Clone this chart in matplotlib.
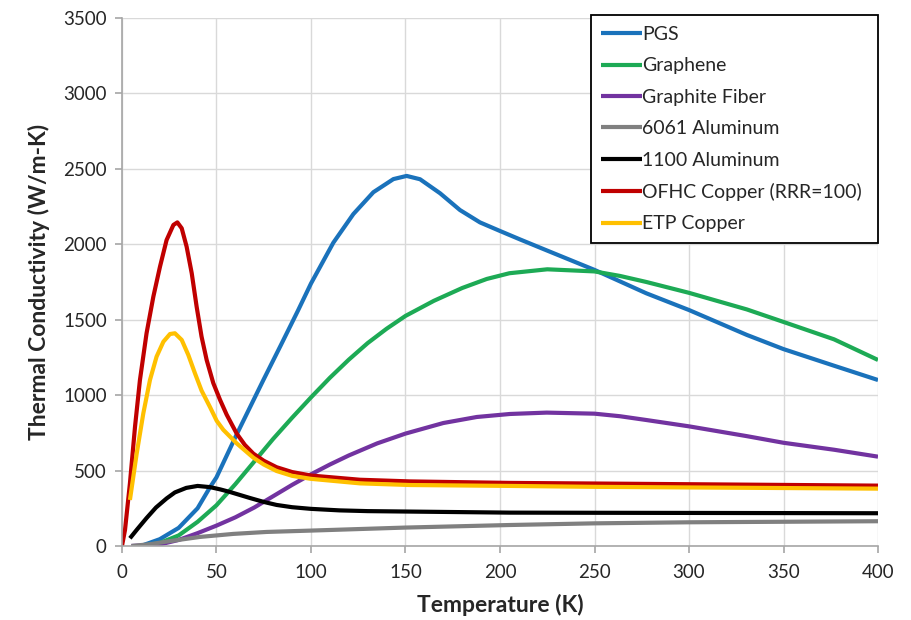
import matplotlib
matplotlib.use("Agg")
import matplotlib.pyplot as plt

plt.rcParams['font.family'] = ['Lato', 'DejaVu Sans']

# Temperature (K) / Thermal conductivity (W/m-K)
pgs_t = [10, 20, 30, 40, 46.6, 50, 60.7, 74.8, 84, 93.1, 100, 111.8, 122.4, 133, 143.6, 150.6, 157.7, 168.3, 178.8, 189.4, 200, 210.6, 224.2, 250, 277.4, 300, 330.6, 350, 376.7, 400]
pgs_k = [0, 45, 120, 250, 390, 455, 740, 1100, 1330, 1560, 1740, 2010, 2200, 2345, 2432, 2453, 2431, 2338, 2227, 2145, 2088, 2032, 1962, 1830, 1675, 1564, 1399, 1305, 1195, 1100]

gra_t = [10, 20, 30, 40, 50, 60, 70, 80, 90, 100, 110, 120, 130, 140, 150, 165, 180, 193, 205, 225, 250, 263.5, 277.4, 300, 330.6, 350, 376.7, 400]
gra_k = [0, 20, 70, 160, 270, 410, 560, 710, 850, 985, 1115, 1235, 1345, 1440, 1525, 1625, 1710, 1770, 1808, 1834, 1820, 1790, 1750, 1678, 1568, 1485, 1370, 1233]

fib_t = [5, 20, 30, 40, 50, 60, 70, 80, 90, 100, 110, 120, 135, 150, 170, 187.7, 205.3, 224.7, 250, 263.5, 277.4, 300, 330.6, 350, 376.7, 400]
fib_k = [0, 10, 40, 85, 135, 190, 255, 330, 405, 475, 540, 600, 680, 745, 815, 855, 875, 884, 877, 860, 835, 793, 728, 684, 638, 592]

al6061_t = [5, 15, 23.6, 41.3, 58.9, 76.5, 100, 150, 205.3, 250, 300, 400]
al6061_k = [0, 12, 29, 60, 80, 93, 102, 122, 139, 150, 157, 164]

al1100_t = [4.2, 8, 13, 18, 23.6, 28, 34, 40, 46.6, 52, 57.1, 62.4, 67.7, 75, 81.8, 90, 100, 115, 130, 152.4, 205.3, 250, 400]
al1100_k = [51, 110, 185, 255, 315, 355, 385, 398, 390, 375, 358, 338, 318, 292, 272, 257, 246, 236, 231, 228, 221, 220, 217]

ofhc_t = [0, 1.6, 4.2, 6.9, 9.5, 13, 16.6, 20.1, 23.6, 27.2, 29.3, 31.6, 34.2, 36.9, 39.5, 42.1, 44.8, 48.3, 51.9, 55.4, 60.7, 65, 69.5, 75, 81.8, 90, 100, 125.9, 152.4, 205.3, 250, 400]
ofhc_k = [0, 106, 415, 791, 1100, 1410, 1653, 1851, 2028, 2128, 2145, 2106, 1984, 1808, 1586, 1388, 1233, 1080, 968, 870, 745, 670, 612, 565, 522, 490, 467, 439, 428, 418, 414, 400]

etp_t = [4.2, 7.8, 11.3, 14.8, 18.3, 21.9, 25.4, 28, 31.6, 35.1, 38.6, 42.1, 46.6, 50.1, 53.6, 60.7, 69.5, 75, 81.8, 90, 100, 125.9, 152.4, 205.3, 250, 400]
etp_k = [305, 614, 880, 1100, 1255, 1354, 1405, 1410, 1366, 1266, 1145, 1030, 920, 830, 770, 680, 585, 540, 497, 465, 445, 415, 404, 398, 392, 380]

series = [
    ("PGS", pgs_t, pgs_k, "#1A72BB"),
    ("Graphene", gra_t, gra_k, "#1DAA55"),
    ("Graphite Fiber", fib_t, fib_k, "#7233A0"),
    ("6061 Aluminum", al6061_t, al6061_k, "#808080"),
    ("1100 Aluminum", al1100_t, al1100_k, "#000000"),
    ("OFHC Copper (RRR=100)", ofhc_t, ofhc_k, "#C00000"),
    ("ETP Copper", etp_t, etp_k, "#FFC000"),
]

fig = plt.figure(figsize=(9.11, 6.2), dpi=100)
ax = fig.add_axes([0.1339, 0.1194, 0.8299, 0.8516])

for name, t, k, c in series:
    ax.plot(t, k, color=c, lw=3.0, label=name, solid_capstyle='butt', solid_joinstyle='round')

ax.set_xlim(0, 400)
ax.set_ylim(0, 3500)
ax.set_xticks(range(0, 401, 50))
ax.set_yticks(range(0, 3501, 500))
ax.grid(True, color="#d9d9d9", lw=1.0)
ax.set_axisbelow(True)
for s in ['top', 'right']:
    ax.spines[s].set_visible(False)
for s in ['left', 'bottom']:
    ax.spines[s].set_color("#a6a6a6")
    ax.spines[s].set_linewidth(1.2)
ax.tick_params(axis='both', colors="#a6a6a6", labelcolor="#262626", labelsize=13.5, length=5, width=1.2)
ax.tick_params(axis='x', pad=8)
ax.tick_params(axis='y', pad=6)

ax.set_xlabel("Temperature (K)", fontsize=16.5, fontweight='bold', color="#262626", labelpad=9)
ax.set_ylabel("Thermal Conductivity (W/m-K)", fontsize=16.5, fontweight='bold', color="#262626", labelpad=9)

leg = ax.legend(loc='upper left', bbox_to_anchor=(0.620, 0.580, 0.380, 0.425), mode='expand',
                fontsize=14, frameon=True, fancybox=False, handlelength=2.1, handletextpad=0.0,
                borderaxespad=0, labelspacing=0.74, borderpad=0.55)
leg.get_frame().set_edgecolor("black")
leg.get_frame().set_linewidth(1.3)
leg.get_frame().set_alpha(1)
for line in leg.get_lines():
    line.set_linewidth(3.0)
for txt in leg.get_texts():
    txt.set_color("#262626")

fig.savefig("out.png", dpi=100)
